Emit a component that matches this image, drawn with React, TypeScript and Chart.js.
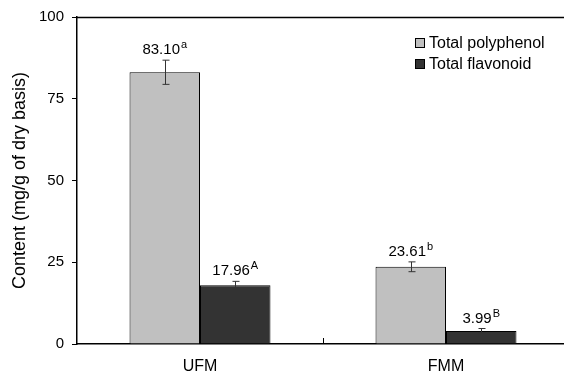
import React, { useEffect, useRef } from "react";
import { Chart, registerables } from "chart.js";

Chart.register(...registerables);

const categories = ["UFM", "FMM"];
const seriesNames = ["Total polyphenol", "Total flavonoid"];
const polyphenol = [83.1, 23.61];
const flavonoid = [17.96, 3.99];
const polyphenolErr = [3.7, 1.5];
const flavonoidErr = [1.2, 0.75];
const polyphenolSig = ["a", "b"];
const flavonoidSig = ["A", "B"];
const yTicks = [0, 25, 50, 75, 100];

const FONT = "'Liberation Sans', Arial, sans-serif";

const overlay = {
  id: "overlay",
  afterDatasetsDraw(chart: any) {
    const ctx = chart.ctx;
    const area = chart.chartArea;
    const xs = chart.scales.x;
    const ys = chart.scales.y;
    ctx.save();
    // top frame line
    ctx.strokeStyle = "#000";
    ctx.lineWidth = 1.5;
    ctx.beginPath();
    ctx.moveTo(area.left, area.top + 0.5);
    ctx.lineTo(area.right, area.top + 0.5);
    ctx.stroke();
    // inner tick between categories
    ctx.lineWidth = 1;
    const mid = (xs.getPixelForValue(0) + xs.getPixelForValue(1)) / 2;
    ctx.beginPath();
    ctx.moveTo(Math.round(mid) + 0.5, area.bottom);
    ctx.lineTo(Math.round(mid) + 0.5, area.bottom - 6);
    ctx.stroke();

    const errs = [polyphenolErr, flavonoidErr];
    const sigs = [polyphenolSig, flavonoidSig];
    chart.data.datasets.forEach((ds: any, di: number) => {
      const meta = chart.getDatasetMeta(di);
      meta.data.forEach((bar: any, i: number) => {
        const v = ds.data[i];
        const e = errs[di][i];
        const x = Math.round(bar.x) + 0.5;
        const yTop = ys.getPixelForValue(v + e);
        const yBot = ys.getPixelForValue(v - e);
        ctx.strokeStyle = "#333";
        ctx.lineWidth = 1;
        ctx.beginPath();
        ctx.moveTo(x, yTop);
        ctx.lineTo(x, yBot);
        ctx.moveTo(x - 3, yTop);
        ctx.lineTo(x + 4, yTop);
        ctx.moveTo(x - 3, yBot);
        ctx.lineTo(x + 4, yBot);
        ctx.stroke();
        // label
        const main = v.toFixed(2);
        const sup = sigs[di][i];
        ctx.font = `15px ${FONT}`;
        const w1 = ctx.measureText(main).width;
        ctx.font = `11px ${FONT}`;
        const w2 = ctx.measureText(sup).width;
        const total = w1 + w2 + 1;
        const startX = bar.x - total / 2;
        const baseY = yTop - 6;
        ctx.fillStyle = "#000";
        ctx.textAlign = "left";
        ctx.textBaseline = "alphabetic";
        ctx.font = `15px ${FONT}`;
        ctx.fillText(main, startX, baseY);
        ctx.font = `11px ${FONT}`;
        ctx.fillText(sup, startX + w1 + 1, baseY - 6);
      });
    });

    // legend
    const colors = ["#c0c0c0", "#333333"];
    const ly = [43, 64];
    ctx.font = `16px ${FONT}`;
    ctx.textBaseline = "middle";
    seriesNames.forEach((name, i) => {
      ctx.fillStyle = colors[i];
      ctx.fillRect(415, ly[i] - 5, 10, 10);
      ctx.strokeStyle = "#000";
      ctx.lineWidth = 1;
      ctx.strokeRect(415.5, ly[i] - 4.5, 9, 9);
      ctx.fillStyle = "#000";
      ctx.fillText(name, 429, ly[i] + 1);
    });
    ctx.restore();
  },
};

export default function App() {
  const ref = useRef<HTMLCanvasElement>(null);
  useEffect(() => {
    const chart = new Chart(ref.current!, {
      type: "bar",
      data: {
        labels: categories,
        datasets: [
          {
            label: seriesNames[0],
            data: polyphenol,
            backgroundColor: "#c0c0c0",
            borderColor: "#000",
            borderWidth: 1,
            categoryPercentage: 0.573,
            barPercentage: 1,
          },
          {
            label: seriesNames[1],
            data: flavonoid,
            backgroundColor: "#333333",
            borderColor: "#000",
            borderWidth: 1,
            categoryPercentage: 0.573,
            barPercentage: 1,
          },
        ],
      },
      options: {
        animation: false,
        responsive: false,
        maintainAspectRatio: false,
        layout: { padding: { top: 14, right: 11, left: 0, bottom: 0 } },
        plugins: { legend: { display: false }, tooltip: { enabled: false } },
        scales: {
          x: {
            type: "category",
            grid: { display: false, drawTicks: false },
            border: { display: true, color: "#000", width: 1.5 },
            ticks: { color: "#000", font: { family: FONT, size: 16 }, padding: 13 },
            afterFit(scale: any) {
              scale.height = 34;
            },
          },
          y: {
            min: 0,
            max: 100,
            afterBuildTicks(scale: any) {
              scale.ticks = yTicks.map((v) => ({ value: v }));
            },
            grid: {
              drawOnChartArea: false,
              drawTicks: true,
              tickLength: 5,
              color: "#000",
            },
            border: { display: true, color: "#000", width: 1.5 },
            ticks: { color: "#000", font: { family: FONT, size: 15 }, padding: 8 },
            title: {
              display: true,
              text: "Content (mg/g of dry basis)",
              color: "#000",
              font: { family: FONT, size: 18 },
              padding: { top: 9, bottom: 0 },
            },
            afterFit(scale: any) {
              scale.width = 77;
            },
          },
        },
      },
      plugins: [overlay],
    });
    return () => chart.destroy();
  }, []);
  return (
    <div style={{ position: "fixed", left: 0, top: 0, width: 580, height: 378, background: "#fff" }}>
      <canvas ref={ref} width={580} height={378} style={{ width: 580, height: 378 }} />
    </div>
  );
}
